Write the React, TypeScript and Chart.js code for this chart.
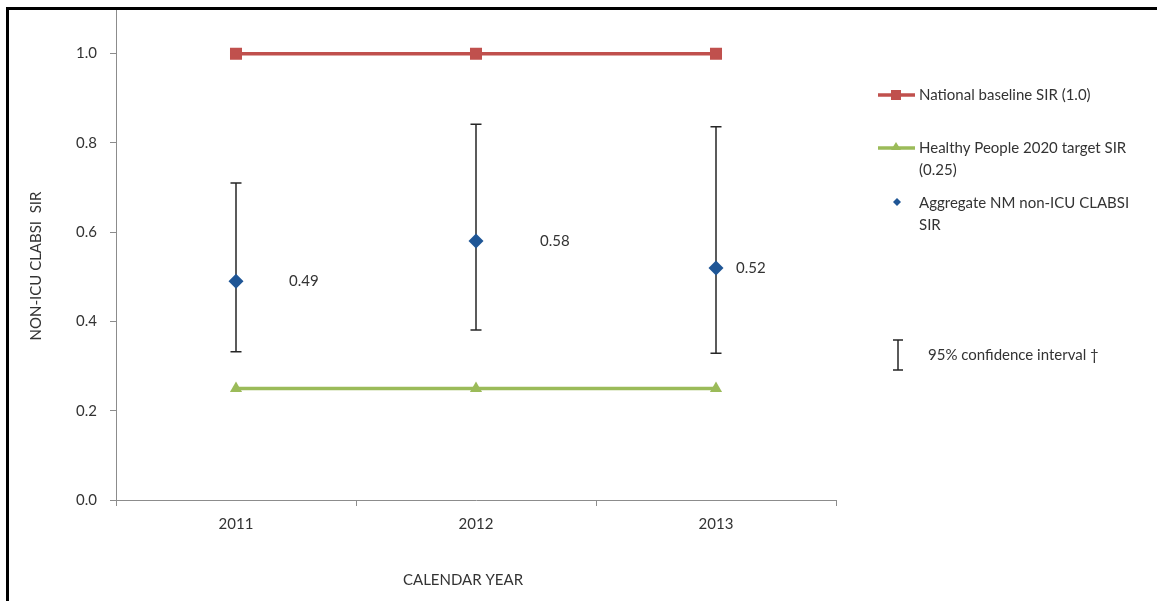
import { useEffect, useRef } from "react"
import { Chart, registerables } from "chart.js"

Chart.register(...registerables)

// Datos del gráfico
const YEARS = ["2011", "2012", "2013"]
const NATIONAL_BASELINE = [1.0, 1.0, 1.0]
const HP2020_TARGET = [0.25, 0.25, 0.25]
const AGGREGATE_SIR = [0.49, 0.58, 0.52]
const CI_LOWER = [0.332, 0.381, 0.329]
const CI_UPPER = [0.71, 0.842, 0.836]
const Y_TICKS = [0, 0.2, 0.4, 0.6, 0.8, 1.0]

// Desplazamiento horizontal de las etiquetas (px)
const LABEL_DX = [53, 64, 20]

const FONT = "Lato, 'Open Sans', sans-serif"
const FS = 15
const TEXT = "#333333"
const AXIS = "#8c8c8c"
const RED = "#C0504D"
const GREEN = "#9BBB59"
const BLUE = "#1F5696"

const extras = {
  id: "extras",
  beforeDatasetsDraw(chart: any) {
    const { ctx, scales } = chart
    const x = scales.x
    const y = scales.y
    ctx.save()
    ctx.strokeStyle = "#262626"
    ctx.lineWidth = 1.5
    YEARS.forEach((_, i) => {
      const px = x.getPixelForValue(i)
      const top = y.getPixelForValue(CI_UPPER[i])
      const bot = y.getPixelForValue(CI_LOWER[i])
      ctx.beginPath()
      ctx.moveTo(px, top)
      ctx.lineTo(px, bot)
      ctx.moveTo(px - 5.5, top)
      ctx.lineTo(px + 5.5, top)
      ctx.moveTo(px - 5.5, bot)
      ctx.lineTo(px + 5.5, bot)
      ctx.stroke()
    })
    ctx.restore()
  },
  afterDraw(chart: any) {
    const { ctx, scales } = chart
    const x = scales.x
    const y = scales.y
    ctx.save()

    // marco
    ctx.fillStyle = "#000"
    ctx.fillRect(6, 7, 1151, 3)
    ctx.fillRect(6, 7, 3, 594)

    // etiquetas de valores
    ctx.font = `${FS}px ${FONT}`
    ctx.fillStyle = TEXT
    ctx.textAlign = "left"
    ctx.textBaseline = "middle"
    AGGREGATE_SIR.forEach((v, i) => {
      ctx.fillText(v.toFixed(2), x.getPixelForValue(i) + LABEL_DX[i], y.getPixelForValue(v))
    })

    // títulos de los ejes
    ctx.textAlign = "center"
    ctx.fillText("CALENDAR YEAR", 463, 580)
    ctx.save()
    ctx.translate(36, 266)
    ctx.rotate(-Math.PI / 2)
    ctx.fillText("NON-ICU CLABSI  SIR", 0, 0)
    ctx.restore()

    // leyenda
    ctx.textAlign = "left"
    ctx.lineWidth = 3.5
    ctx.strokeStyle = RED
    ctx.beginPath()
    ctx.moveTo(878, 95)
    ctx.lineTo(915, 95)
    ctx.stroke()
    ctx.fillStyle = RED
    ctx.fillRect(891, 90, 10, 10)
    ctx.fillStyle = TEXT
    ctx.fillText("National baseline SIR (1.0)", 919, 95)

    ctx.strokeStyle = GREEN
    ctx.beginPath()
    ctx.moveTo(878, 148)
    ctx.lineTo(915, 148)
    ctx.stroke()
    ctx.fillStyle = GREEN
    ctx.beginPath()
    ctx.moveTo(896, 142)
    ctx.lineTo(901, 150)
    ctx.lineTo(891, 150)
    ctx.closePath()
    ctx.fill()
    ctx.fillStyle = TEXT
    ctx.fillText("Healthy People 2020 target SIR", 919, 148)
    ctx.fillText("(0.25)", 919, 170)

    ctx.fillStyle = BLUE
    ctx.beginPath()
    ctx.moveTo(897, 198)
    ctx.lineTo(901, 202)
    ctx.lineTo(897, 206)
    ctx.lineTo(893, 202)
    ctx.closePath()
    ctx.fill()
    ctx.fillStyle = TEXT
    ctx.fillText("Aggregate NM non-ICU CLABSI", 919, 203)
    ctx.fillText("SIR", 919, 225)

    ctx.strokeStyle = "#262626"
    ctx.lineWidth = 1.5
    ctx.beginPath()
    ctx.moveTo(898, 340)
    ctx.lineTo(898, 370)
    ctx.moveTo(893, 340)
    ctx.lineTo(903, 340)
    ctx.moveTo(893, 370)
    ctx.lineTo(903, 370)
    ctx.stroke()
    ctx.fillText("95% confidence interval \u2020", 928, 355)

    ctx.restore()
  },
}

export default function App() {
  const chartRef = useRef<HTMLCanvasElement>(null)
  const chartInstance = useRef<Chart | null>(null)

  useEffect(() => {
    document.body.style.margin = "0"
    if (!chartRef.current) return
    if (chartInstance.current) chartInstance.current.destroy()

    const ctx = chartRef.current.getContext("2d")
    if (!ctx) return

    chartInstance.current = new Chart(ctx, {
      type: "line",
      data: {
        labels: YEARS,
        datasets: [
          {
            label: "National baseline SIR (1.0)",
            data: NATIONAL_BASELINE,
            borderColor: RED,
            backgroundColor: RED,
            borderWidth: 3.5,
            pointStyle: "rect",
            pointRadius: 8.5,
            pointBorderWidth: 0,
          },
          {
            label: "Healthy People 2020 target SIR (0.25)",
            data: HP2020_TARGET,
            borderColor: GREEN,
            backgroundColor: GREEN,
            borderWidth: 3.5,
            pointStyle: "triangle",
            pointRadius: 7,
            pointBorderWidth: 0,
          },
          {
            label: "Aggregate NM non-ICU CLABSI SIR",
            data: AGGREGATE_SIR,
            showLine: false,
            borderColor: BLUE,
            backgroundColor: BLUE,
            pointStyle: "rectRot",
            pointRadius: 7.5,
            pointBorderWidth: 0,
          },
        ],
      },
      options: {
        responsive: false,
        animation: false,
        events: [],
        layout: { padding: { left: 0, top: 9, right: 321, bottom: 0 } },
        plugins: {
          legend: { display: false },
          tooltip: { enabled: false },
          title: { display: false },
        },
        scales: {
          x: {
            type: "category",
            offset: true,
            afterFit: (s: any) => {
              s.height = 101
              s.paddingLeft = 0
              s.paddingRight = 0
            },
            grid: {
              offset: true,
              drawOnChartArea: false,
              drawTicks: true,
              tickLength: 6,
              color: AXIS,
            },
            border: { display: true, color: AXIS, width: 1 },
            ticks: { color: TEXT, font: { family: FONT, size: FS }, padding: 9 },
          },
          y: {
            type: "linear",
            min: 0,
            max: 1.1,
            afterFit: (s: any) => {
              s.width = 116
              s.paddingTop = 0
              s.paddingBottom = 0
            },
            afterBuildTicks: (s: any) => {
              s.ticks = Y_TICKS.map((v) => ({ value: v }))
            },
            grid: {
              drawOnChartArea: false,
              drawTicks: true,
              tickLength: 6,
              color: AXIS,
            },
            border: { display: true, color: AXIS, width: 1 },
            ticks: {
              color: TEXT,
              font: { family: FONT, size: FS },
              padding: 13,
              callback: (v: any) => Number(v).toFixed(1),
            },
          },
        },
      },
      plugins: [extras],
    })

    return () => {
      if (chartInstance.current) {
        chartInstance.current.destroy()
        chartInstance.current = null
      }
    }
  }, [])

  return (
    <div style={{ width: 1157, height: 601, background: "#fff", position: "relative" }}>
      <canvas ref={chartRef} width={1157} height={601} />
    </div>
  )
}
